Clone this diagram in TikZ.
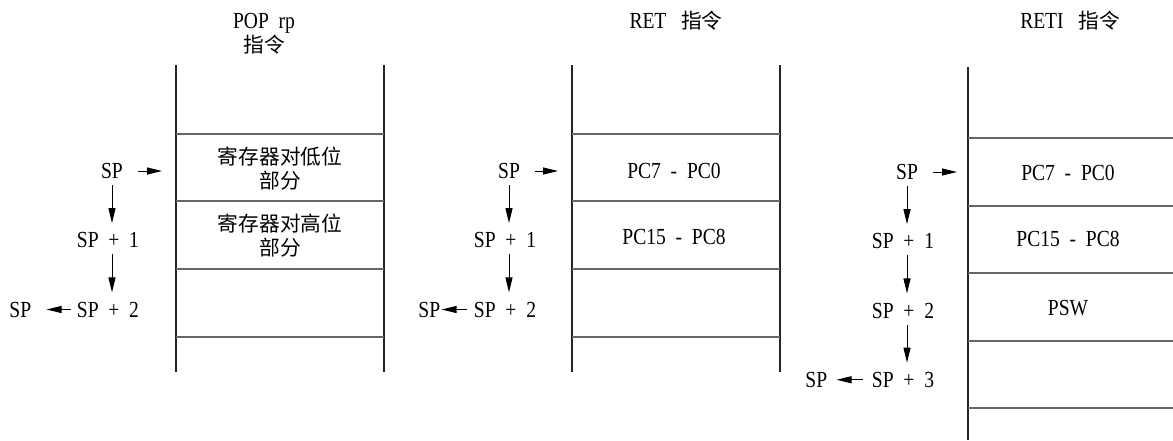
\documentclass[tikz,border=0pt]{standalone}
\usepackage{fontspec}
\setmainfont{Liberation Serif}[FakeStretch=0.85]
\newfontfamily\cjk{Noto Sans CJK SC}[Scale=0.9]
\usepackage{tikz}
\usetikzlibrary{positioning, arrows.meta}

\begin{document}
\begin{tikzpicture}[
        x=0.5pt, y=-0.5pt,
        node distance=26.5pt and 22.5pt,
        base/.style={inner sep=0pt, align=center, font=\fontsize{11.5}{12}\selectfont},
        lbl/.style={base},
        cell/.style={base},
        cellcn/.style={base, font=\fontsize{11.5}{12}\selectfont\cjk},
        title/.style={base},
        wall/.style={line width=1pt, black!85},
        row/.style={line width=0.6pt, black!60},
        arr/.style={-{Triangle[length=7.5pt, width=3.5pt]}, line width=0.5pt},
        down/.style={arr, shorten <=3pt, shorten >=4.5pt}
    ]
    \useasboundingbox (0,0) rectangle (1173,440);

    % stacks
    \coordinate (wallA) at (176,0);
    \coordinate (wallB) at (572,0);
    \coordinate (wallC) at (968,0);
    \draw[wall] (176,65) -- (176,372);
    \draw[wall] (384,65) -- (384,372);
    \draw[row] (176,134) -- (384,134) (176,201) -- (384,201)
               (176,269) -- (384,269) (176,337) -- (384,337);
    \draw[wall] (572,65) -- (572,372);
    \draw[wall] (780,65) -- (780,372);
    \draw[row] (572,134) -- (780,134) (572,201) -- (780,201)
               (572,269) -- (780,269) (572,337) -- (780,337);
    \draw[wall] (968,67) -- (968,440);
    \draw[row] (968,138) -- (1173,138) (968,206) -- (1173,206)
               (968,273) -- (1173,273) (968,341) -- (1173,341)
               (968,408) -- (1173,408);

    % titles
    \node[title] (titleA) at (264,34) {POP~~rp\\{\cjk 指令}};
    \node[title] (titleB) at (676,21) {RET~~~{\cjk 指令}};
    \node[title] (titleC) at (1070,21) {RETI~~~{\cjk 指令}};

    % stack contents
    \node[cellcn] (lowA) at (280,169) {寄存器对低位\\部分};
    \node[cellcn] (highA) at (280,236) {寄存器对高位\\部分};
    \node[cell] (lowB) at (674,171) {PC7~~-~~PC0};
    \node[cell] (highB) at (674,237) {PC15~~-~~PC8};
    \node[cell] (lowC) at (1068,173) {PC7~~-~~PC0};
    \node[cell] (highC) at (1068,239) {PC15~~-~~PC8};
    \node[cell] (pswC) at (1068,308) {PSW};

    % POP rp
    \node[lbl] (spA) at (112,171) {SP};
    \node[lbl, below=of spA, xshift=-2pt] (spA1) {SP~~+~~1};
    \node[lbl, below=of spA1] (spA2) {SP~~+~~2};
    \node[lbl, left=of spA2] (spAo) {SP};
    \draw[arr, shorten <=7.5pt, shorten >=7pt] (spA.east) -- (spA.east -| wallA);
    \draw[down] (spA.south) -- (spA.south |- spA1.north);
    \draw[down] (spA1.south -| spA) -- (spA2.north -| spA);
    \draw[arr, shorten <=3pt, shorten >=7.5pt] (spA2.west) -- (spAo.east);

    % RET
    \node[lbl] (spB) at (509,171) {SP};
    \node[lbl, below=of spB, xshift=-2pt] (spB1) {SP~~+~~1};
    \node[lbl, below=of spB1] (spB2) {SP~~+~~2};
    \node[lbl, left=16.5pt of spB2] (spBo) {SP};
    \draw[arr, shorten <=7.5pt, shorten >=7pt] (spB.east) -- (spB.east -| wallB);
    \draw[down] (spB.south) -- (spB.south |- spB1.north);
    \draw[down] (spB1.south -| spB) -- (spB2.north -| spB);
    \draw[arr, shorten <=3.5pt, shorten >=0.5pt] (spB2.west) -- (spBo.east);

    % RETI
    \node[lbl] (spC) at (907,172) {SP};
    \node[lbl, below=of spC, xshift=-2pt] (spC1) {SP~~+~~1};
    \node[lbl, below=of spC1] (spC2) {SP~~+~~2};
    \node[lbl, below=of spC2] (spC3) {SP~~+~~3};
    \node[lbl, left=22pt of spC3] (spCo) {SP};
    \draw[arr, shorten <=7.5pt, shorten >=5.5pt] (spC.east) -- (spC.east -| wallC);
    \draw[down] (spC.south) -- (spC.south |- spC1.north);
    \draw[down] (spC1.south -| spC) -- (spC2.north -| spC);
    \draw[down] (spC2.south -| spC) -- (spC3.north -| spC);
    \draw[arr, shorten <=4.5pt, shorten >=4.5pt] (spC3.west) -- (spCo.east);
\end{tikzpicture}
\end{document}
